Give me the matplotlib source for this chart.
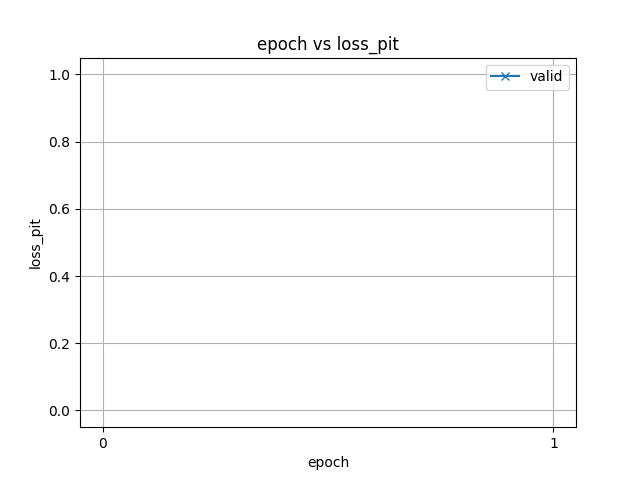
import matplotlib
matplotlib.use("Agg")
import matplotlib.pyplot as plt

epochs = []
loss_valid = []
xtick_values = [0, 1]

fig, ax = plt.subplots(figsize=(6.4, 4.8), dpi=100)
ax.plot(epochs, loss_valid, marker='x', label='valid')
ax.set_xlim(-0.05, 1.05)
ax.set_ylim(-0.05, 1.05)
ax.set_xticks(xtick_values)
ax.set_title('epoch vs loss_pit')
ax.set_xlabel('epoch')
ax.set_ylabel('loss_pit')
ax.grid(True)
ax.legend(loc='upper right')
fig.savefig('out.png')
